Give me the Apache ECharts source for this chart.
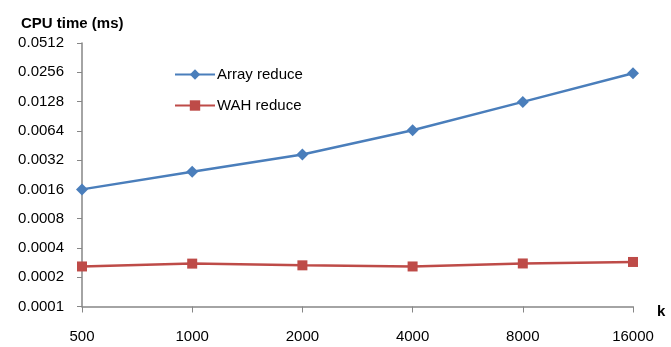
<!DOCTYPE html>
<html>
<head>
<meta charset="utf-8">
<script src="https://cdn.jsdelivr.net/npm/echarts@6/dist/echarts.min.js"></script>
<style>html,body{margin:0;padding:0;background:#fff}#c{width:671px;height:347px}</style>
</head>
<body>
<div id="c"></div>
<script>
// Data
var categories = ['500', '1000', '2000', '4000', '8000', '16000'];
var arrayReduce = [0.0016, 0.00243, 0.00366, 0.00648, 0.0127, 0.0250];
var wahReduce = [0.000258, 0.000276, 0.000265, 0.000258, 0.000277, 0.000287];
var yBase = 0.0001; // lowest tick; axis ticks double each step
var yTickCount = 9;

function toLog(v) { return Math.log2(v / yBase); }

var chart = echarts.init(document.getElementById('c'));
var font = '"Liberation Sans", Arial, sans-serif';
chart.setOption({
  animation: false,
  backgroundColor: '#ffffff',
  textStyle: { fontFamily: font },
  title: {
    text: 'CPU time (ms)', left: 16, top: 11,
    textStyle: { fontFamily: font, fontSize: 15, fontWeight: 'bold', color: '#000' }
  },
  grid: { left: 82, right: 38, top: 43, bottom: 40.5, containLabel: false },
  legend: {
    orient: 'vertical', left: 169, top: 62,
    itemWidth: 40, itemHeight: 13, itemGap: 16,
    textStyle: { fontFamily: font, fontSize: 15, color: '#000', padding: [0,0,0,-3] },
    data: ['Array reduce', 'WAH reduce']
  },
  xAxis: {
    type: 'category', data: categories, boundaryGap: false,
    axisLine: { lineStyle: { color: '#868686', width: 1.5 } },
    axisTick: { show: true, inside: false, length: 6, lineStyle: { color: '#868686' } },
    axisLabel: { margin: 23, fontSize: 15, color: '#000', fontFamily: font },
    splitLine: { show: false }
  },
  yAxis: {
    type: 'value', min: 0, max: yTickCount, interval: 1,
    axisLine: { show: true, lineStyle: { color: '#868686', width: 1.5 } },
    axisTick: { show: true, inside: false, length: 5, lineStyle: { color: '#868686' } },
    axisLabel: {
      margin: 18, fontSize: 15, color: '#000', fontFamily: font,
      formatter: function (v) { return (yBase * Math.pow(2, v)).toFixed(4); }
    },
    splitLine: { show: false }
  },
  graphic: [{
    type: 'text', left: 657, top: 304,
    style: { text: 'k', font: 'bold 15px ' + font, fill: '#000' }
  }],
  series: [{
    name: 'Array reduce', type: 'line',
    data: arrayReduce.map(toLog),
    symbol: 'diamond', symbolSize: 12,
    lineStyle: { color: '#4A7EBB', width: 2.5 },
    itemStyle: { color: '#4A7EBB' }
  }, {
    name: 'WAH reduce', type: 'line',
    data: wahReduce.map(toLog),
    symbol: 'rect', symbolSize: 10,
    lineStyle: { color: '#BE4B48', width: 2.5 },
    itemStyle: { color: '#BE4B48' }
  }]
});
</script>
</body>
</html>
